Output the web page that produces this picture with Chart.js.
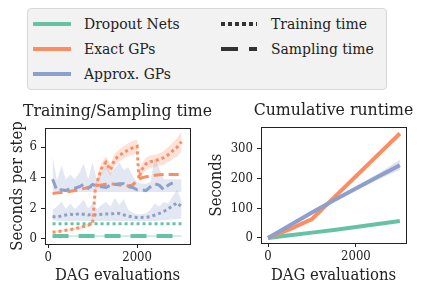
<!DOCTYPE html>
<html>
<head>
<meta charset="utf-8">
<script src="https://cdn.jsdelivr.net/npm/chart.js@4.4.1/dist/chart.umd.min.js"></script>
<style>
  html, body { margin: 0; padding: 0; background: #fff; overflow: hidden; width: 424px; height: 296px; }
  body { position: relative; font-family: "DejaVu Serif Condensed", "DejaVu Serif", serif; color: #222; }
  canvas { position: absolute; }
  #legend { position: absolute; left: 27px; top: 8px; width: 360px; height: 82px; background: #f2f2f2;
            border: 1px solid #d8d8d8; border-radius: 4px; box-sizing: border-box; }
  .item { position: absolute; font-size: 15.5px; line-height: 18px; white-space: nowrap; }
  .swatch { position: absolute; height: 4px; }
</style>
</head>
<body>
<div id="legend">
  <div class="swatch" style="left:5px;top:13px;width:38px;background:#66c2a5"></div>
  <div class="item" style="left:56px;top:6px">Dropout Nets</div>
  <div class="swatch" style="left:5px;top:38px;width:38px;background:#fc8d62"></div>
  <div class="item" style="left:56px;top:31px">Exact GPs</div>
  <div class="swatch" style="left:5px;top:63px;width:38px;background:#8da0cb"></div>
  <div class="item" style="left:56px;top:56px">Approx. GPs</div>
  <div class="swatch" style="left:193px;top:13px;width:36px;background:repeating-linear-gradient(90deg,#333 0 4px,transparent 4px 7px)"></div>
  <div class="item" style="left:243px;top:6px">Training time</div>
  <div class="swatch" style="left:193px;top:38px;width:36px;background:repeating-linear-gradient(90deg,#333 0 17px,transparent 17px 28px)"></div>
  <div class="item" style="left:243px;top:31px">Sampling time</div>
</div>
<canvas id="left" width="235" height="206" style="left:0px;top:90px"></canvas>
<canvas id="right" width="267" height="206" style="left:200px;top:90px"></canvas>
<script>
// per-step timings (left panel), x = DAG evaluations
const steps = [100, 200, 300, 400, 500, 600, 700, 800, 900, 1000,
  1100, 1200, 1300, 1400, 1500, 1600, 1700, 1800, 1900, 2000,
  2100, 2200, 2300, 2400, 2500, 2600, 2700, 2800, 2900, 3000];

const dropoutTrain = [0.98, 0.98, 0.98, 0.98, 0.98, 0.98, 0.98, 0.98, 0.98, 0.98,
  0.98, 0.98, 0.98, 0.98, 0.98, 0.98, 0.98, 0.98, 0.98, 0.98,
  0.98, 0.98, 0.98, 0.98, 0.98, 0.98, 0.98, 0.98, 0.98, 0.98];
const dropoutSample = [0.17, 0.17, 0.17, 0.17, 0.17, 0.17, 0.17, 0.17, 0.17, 0.17,
  0.17, 0.17, 0.17, 0.17, 0.17, 0.17, 0.17, 0.17, 0.17, 0.17,
  0.17, 0.17, 0.17, 0.17, 0.17, 0.17, 0.17, 0.17, 0.17, 0.17];

// exact GP training has two sharp jumps, so it gets two extra x positions
const exactSteps = [100, 200, 300, 400, 500, 600, 700, 800, 900, 1000, 1060,
  1100, 1200, 1300, 1400, 1500, 1600, 1700, 1800, 1900, 2000, 2040,
  2100, 2200, 2300, 2400, 2500, 2600, 2700, 2800, 2900, 3000];
const exactTrain = [0.43, 0.45, 0.5, 0.55, 0.6, 0.65, 0.72, 0.8, 0.88, 1.0, 3.2,
  3.7, 4.6, 5.0, 4.5, 5.2, 5.45, 5.65, 5.8, 5.95, 6.05, 3.95,
  4.5, 4.9, 5.05, 5.1, 5.2, 5.3, 5.5, 5.75, 6.0, 6.35];
const exactTrainLo = [0.37, 0.39, 0.44, 0.49, 0.54, 0.58, 0.64, 0.72, 0.79, 0.9, 3.0,
  3.4, 4.2, 4.6, 4.1, 4.8, 5.05, 5.25, 5.4, 5.5, 5.6, 3.7,
  4.1, 4.5, 4.65, 4.7, 4.8, 4.85, 5.0, 5.2, 5.4, 5.7];
const exactTrainHi = [0.5, 0.52, 0.56, 0.6, 0.66, 0.72, 0.8, 0.88, 0.97, 1.1, 3.5,
  4.0, 5.0, 5.4, 4.9, 5.6, 5.85, 6.05, 6.25, 6.4, 6.5, 4.3,
  4.9, 5.3, 5.45, 5.5, 5.6, 5.75, 6.0, 6.3, 6.6, 7.0];
const exactSample = [2.95, 3.0, 3.02, 3.05, 3.1, 3.15, 3.2, 3.28, 3.35, 3.42,
  3.48, 3.52, 3.56, 3.58, 3.56, 3.52, 3.48, 3.45, 3.52, 3.8,
  3.98, 4.05, 4.1, 4.15, 4.18, 4.2, 4.2, 4.2, 4.2, 4.22];

const approxTrain = [1.45, 1.4, 1.5, 1.55, 1.6, 1.55, 1.65, 1.6, 1.55, 1.6,
  1.52, 1.6, 1.62, 1.6, 1.67, 1.65, 1.56, 1.47, 1.42, 1.39,
  1.39, 1.4, 1.45, 1.55, 1.65, 1.78, 1.95, 2.15, 2.35, 2.1];
const approxTrainLo = [1.2, 1.18, 1.15, 1.15, 1.15, 1.15, 1.15, 1.15, 1.15, 1.15,
  1.15, 1.15, 1.15, 1.15, 1.15, 1.15, 1.15, 1.15, 1.15, 1.15,
  1.15, 1.15, 1.15, 1.15, 1.18, 1.2, 1.22, 1.25, 1.28, 1.3];
const approxTrainHi = [1.9, 2.1, 2.4, 1.95, 2.3, 1.95, 2.2, 2.55, 2.0, 2.3,
  1.95, 2.2, 2.4, 2.1, 2.65, 2.2, 2.6, 1.9, 1.7, 1.6,
  1.6, 1.65, 1.9, 2.3, 2.1, 2.4, 2.3, 2.8, 3.2, 2.5];
const approxSample = [3.9, 3.15, 3.2, 3.15, 3.3, 3.3, 3.4, 3.55, 3.3, 3.55,
  3.45, 3.4, 3.35, 3.5, 3.55, 3.6, 3.6, 3.4, 3.35, 3.2,
  3.2, 3.15, 3.4, 3.6, 3.5, 3.2, 3.5, 3.65, null, null];
const approxSampleLo = [3.05, 3.05, 3.05, 3.05, 3.05, 3.05, 3.05, 3.05, 3.05, 3.05,
  3.05, 3.05, 3.05, 3.05, 3.05, 3.05, 3.05, 3.05, 3.05, 3.05,
  3.05, 3.05, 3.05, 3.05, 3.05, 3.05, 3.05, 3.05, 3.05, 3.05];
const approxSampleHi = [5.4, 3.8, 4.8, 3.9, 4.2, 3.9, 4.3, 4.9, 3.9, 5.0,
  3.8, 4.2, 4.8, 4.3, 4.6, 5.0, 4.5, 4.7, 4.1, 3.7,
  3.6, 3.6, 3.7, 5.3, 4.6, 3.9, 3.9, 3.9, 3.9, 3.9];

// cumulative runtime (right panel)
const cumSteps = [0, 500, 1000, 1500, 2000, 2500, 3000];
const dropoutCum = [0, 9, 18, 27, 37, 47, 57];
const exactCum = [0, 30, 64, 136, 208, 280, 352];
const approxCum = [0, 43, 86, 127, 167, 206, 245];
const approxCumLo = [0, 41, 83, 122, 160, 196, 230];
const approxCumHi = [0, 45, 89, 132, 174, 216, 264];

const xTicks = [0, 2000];
const leftYTicks = [0, 2, 4, 6];
const rightYTicks = [0, 100, 200, 300];

const GREEN = '#66c2a5', ORANGE = '#fc8d62', BLUE = '#8da0cb';
const FONT = '"DejaVu Serif Condensed", "DejaVu Serif"';
const DOT = [3, 3], DASH = [10, 5];

function pts(xs, ys) {
  return ys.map((y, i) => ({x: xs[i], y: y}));
}

function line(xs, ys, color, width, dash) {
  return {data: pts(xs, ys), borderColor: color, borderWidth: width, borderDash: dash || [],
    pointRadius: 0, fill: false, order: 0, spanGaps: false};
}

// a lo/hi pair; hi fills down to lo
function band(xs, lo, hi, color) {
  return [
    {data: pts(xs, lo), borderWidth: 0, pointRadius: 0, fill: false, order: 10},
    {data: pts(xs, hi), borderWidth: 0, pointRadius: 0, backgroundColor: color, fill: '-1', order: 10}
  ];
}

const frame = {
  id: 'frame',
  afterDraw(chart) {
    const {ctx, chartArea: a} = chart;
    ctx.save();
    ctx.strokeStyle = '#222';
    ctx.lineWidth = 1;
    ctx.strokeRect(Math.round(a.left) + 0.5, Math.round(a.top) + 0.5,
      Math.round(a.right - a.left), Math.round(a.bottom - a.top));
    ctx.restore();
  }
};

function makeOptions(o) {
  return {
    responsive: false,
    animation: false,
    devicePixelRatio: 1,
    layout: {padding: 0},
    plugins: {
      legend: {display: false},
      tooltip: {enabled: false},
      title: {display: true, text: o.title, color: '#222',
        font: {family: FONT, size: 17.5, weight: 'normal'},
        padding: {top: o.titleTop, bottom: o.areaTop - o.titleTop - 21}}
    },
    scales: {
      x: {
        type: 'linear', min: o.xMin, max: o.xMax,
        afterBuildTicks: s => { s.ticks = xTicks.map(v => ({value: v})); },
        afterFit: s => { s.height = o.xHeight; },
        ticks: {color: '#222', font: {family: FONT, size: 13}, padding: 2,
          maxRotation: 0, callback: v => String(v)},
        grid: {drawOnChartArea: false, drawTicks: true, tickLength: 4, color: '#222'},
        border: {display: false},
        title: {display: true, text: 'DAG evaluations', color: '#222',
          font: {family: FONT, size: 16.5}, padding: {top: 0, bottom: 10}}
      },
      y: {
        type: 'linear', min: o.yMin, max: o.yMax,
        afterBuildTicks: s => { s.ticks = o.yTicks.map(v => ({value: v})); },
        afterFit: s => { s.width = o.yWidth; },
        ticks: {color: '#222', font: {family: FONT, size: 13}, padding: 4,
          callback: v => String(v)},
        grid: {drawOnChartArea: false, drawTicks: true, tickLength: 4, color: '#222'},
        border: {display: false},
        title: {display: true, text: o.yTitle, color: '#222',
          font: {family: FONT, size: 16.5}, padding: {top: o.yTitlePad, bottom: 0}}
      },
      // empty right-hand axis: keeps the plot box narrower while the title stays centred on it
      spacer: {
        type: 'linear', position: 'right', display: true,
        afterFit: s => { s.width = o.rightGap; },
        ticks: {display: false}, grid: {display: false}, border: {display: false}
      }
    }
  };
}

new Chart(document.getElementById('left').getContext('2d'), {
  type: 'line',
  data: {
    datasets: [
      line(exactSteps, exactTrain, ORANGE, 3, DOT),
      line(steps, approxSample, BLUE, 3, DASH),
      line(steps, approxTrain, BLUE, 3, DOT),
      line(steps, exactSample, ORANGE, 3, DASH),
      line(steps, dropoutTrain, GREEN, 3, DOT),
      line(steps, dropoutSample, GREEN, 4, [16, 10]),
      line(steps, dropoutSample, 'rgba(102,194,165,0.6)', 1),
      ...band(exactSteps, exactTrainLo, exactTrainHi, 'rgba(252,141,98,0.25)'),
      ...band(steps, approxTrainLo, approxTrainHi, 'rgba(141,160,203,0.25)'),
      ...band(steps, approxSampleLo, approxSampleHi, 'rgba(141,160,203,0.25)')
    ]
  },
  options: makeOptions({
    title: 'Training/Sampling time', titleTop: 11, areaTop: 38, rightGap: 45,
    xMin: -70, xMax: 3190, yMin: -0.35, yMax: 7.25, yTicks: leftYTicks,
    xHeight: 52, yWidth: 45, yTitle: 'Seconds per step', yTitlePad: 7.5
  }),
  plugins: [frame]
});

new Chart(document.getElementById('right').getContext('2d'), {
  type: 'line',
  data: {
    datasets: [
      line(cumSteps, approxCum, BLUE, 4),
      line(cumSteps, exactCum, ORANGE, 4),
      line(cumSteps, dropoutCum, GREEN, 4),
      ...band(cumSteps, approxCumLo, approxCumHi, 'rgba(141,160,203,0.3)')
    ]
  },
  options: makeOptions({
    title: 'Cumulative runtime', titleTop: 10, areaTop: 37, rightGap: 61,
    xMin: -160, xMax: 3140, yMin: -17, yMax: 374, yTicks: rightYTicks,
    xHeight: 53, yWidth: 61, yTitle: 'Seconds', yTitlePad: 6.5
  }),
  plugins: [frame]
});
</script>
</body>
</html>
